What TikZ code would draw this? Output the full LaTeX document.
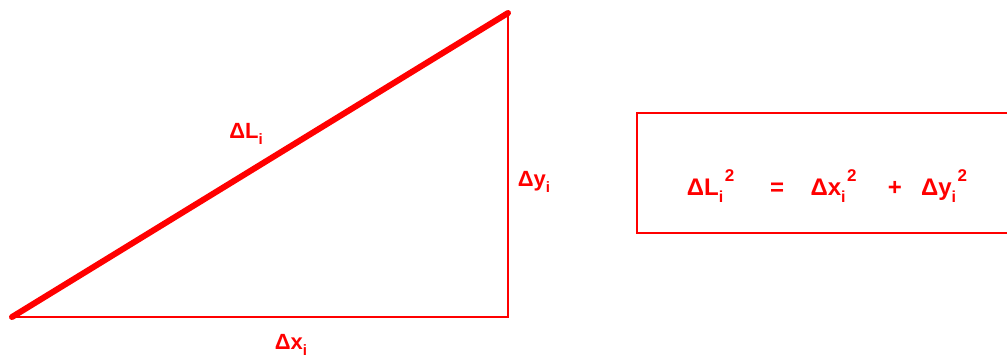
\documentclass[tikz,border=0pt]{standalone}
\usepackage{fontspec}
\setmainfont{Liberation Sans}
\newcommand{\subsup}[2]{\rlap{\raisebox{-0.3em}{\fontsize{16}{16}\selectfont #1}}\raisebox{0.6em}{\hspace{0.25em}\fontsize{17}{17}\selectfont #2}}
\newcommand{\subonly}[1]{\raisebox{-0.3em}{\fontsize{15}{15}\selectfont #1}}
\tikzset{
  thin line/.style={draw=red, line width=1.5pt},
  thick line/.style={draw=red, line width=6pt, line cap=round},
  lbl/.style={text=red, font=\fontsize{22}{22}\bfseries\selectfont, inner sep=0pt},
  eqlbl/.style={text=red, font=\fontsize{24}{24}\bfseries\selectfont, inner sep=0pt},
}
\begin{document}
\begin{tikzpicture}[x=1pt,y=-1pt]
\useasboundingbox (0,0) rectangle (1007,360);
\clip (0,0) rectangle (1007,360);
\coordinate (A) at (12,317);
\coordinate (B) at (508,317);
\coordinate (C) at (508,13);
\draw[thin line] (A) -- (B) -- (C);
\draw[thick line] (A) -- (C);
\node[lbl] (dL) at (246,134) {ΔL\subonly{i}};
\node[lbl] (dx) at (291,345) {Δx\subonly{i}};
\node[lbl] (dy) at (534,182) {Δy\subonly{i}};
\draw[thin line] (637,113) rectangle (1015,233);
\node[eqlbl] (eq) at (827,186) {ΔL\subsup{i}{2}\hspace{1.5em}=\hspace{1.1em}Δx\subsup{i}{2}\hspace{1.3em}+\hspace{0.8em}Δy\subsup{i}{2}};
\end{tikzpicture}
\end{document}
